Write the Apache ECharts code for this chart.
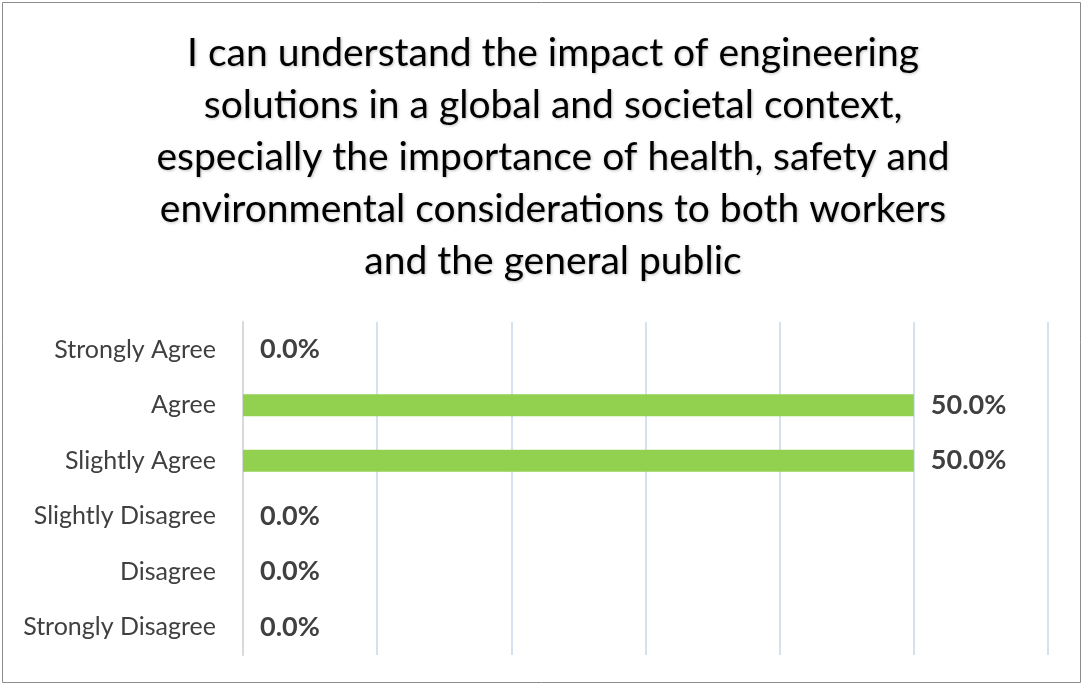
<!DOCTYPE html>
<html>
<head>
<meta charset="utf-8">
<script src="https://cdn.jsdelivr.net/npm/echarts@6/dist/echarts.min.js"></script>
<style>
  html, body { margin: 0; padding: 0; background: #fff; }
  #chart { width: 1083px; height: 685px; }
</style>
</head>
<body>
<div id="chart"></div>
<script>
// survey answers, top to bottom
var categories = ['Strongly Agree', 'Agree', 'Slightly Agree', 'Slightly Disagree', 'Disagree', 'Strongly Disagree'];
var shares = [0, 0.5, 0.5, 0, 0, 0];
var titleLines = [
  'I can understand the impact of engineering',
  'solutions in a global and societal context,',
  'especially the importance of health, safety and',
  'environmental considerations to both workers',
  'and the general public'
];

var chart = echarts.init(document.getElementById('chart'));

var option = {
  animation: false,
  title: {
    text: titleLines.join('\n'),
    left: 548,
    top: 22,
    textAlign: 'center',
    textStyle: {
      fontFamily: 'Lato',
      fontSize: 39,
      fontWeight: 'normal',
      lineHeight: 52,
      color: '#000',
      textShadowColor: 'rgba(0,0,0,0.25)',
      textShadowBlur: 3,
      textShadowOffsetX: 1,
      textShadowOffsetY: 1
    }
  },
  // outer frame
  graphic: [{
    type: 'rect',
    shape: { x: 2.5, y: 2.5, width: 1078, height: 680 },
    style: { fill: 'none', stroke: '#8c8c8c', lineWidth: 1 },
    silent: true
  }],
  grid: {
    left: 243,
    right: 35,
    top: 322,
    bottom: 30
  },
  xAxis: {
    type: 'value',
    min: 0,
    max: 0.6,
    interval: 0.1,
    axisLabel: { show: false },
    axisLine: { show: false },
    axisTick: { show: false },
    splitLine: { lineStyle: { color: '#d6e0f0', width: 2 } }
  },
  yAxis: {
    type: 'category',
    data: categories,
    inverse: true,
    axisLine: { lineStyle: { color: '#d9d9d9', width: 2 } },
    axisTick: { length: 5, lineStyle: { color: '#d9d9d9', width: 2 } },
    axisLabel: {
      margin: 27,
      fontFamily: 'Lato',
      fontSize: 25,
      color: '#404040'
    }
  },
  series: [{
    type: 'bar',
    data: shares,
    barWidth: 22,
    itemStyle: { color: '#92d050' },
    label: {
      show: true,
      position: 'right',
      distance: 17,
      fontFamily: 'Lato',
      fontSize: 27,
      fontWeight: 'bold',
      color: '#404040',
      formatter: function (p) { return (p.value * 100).toFixed(1) + '%'; }
    }
  }]
};

chart.setOption(option);
</script>
</body>
</html>
